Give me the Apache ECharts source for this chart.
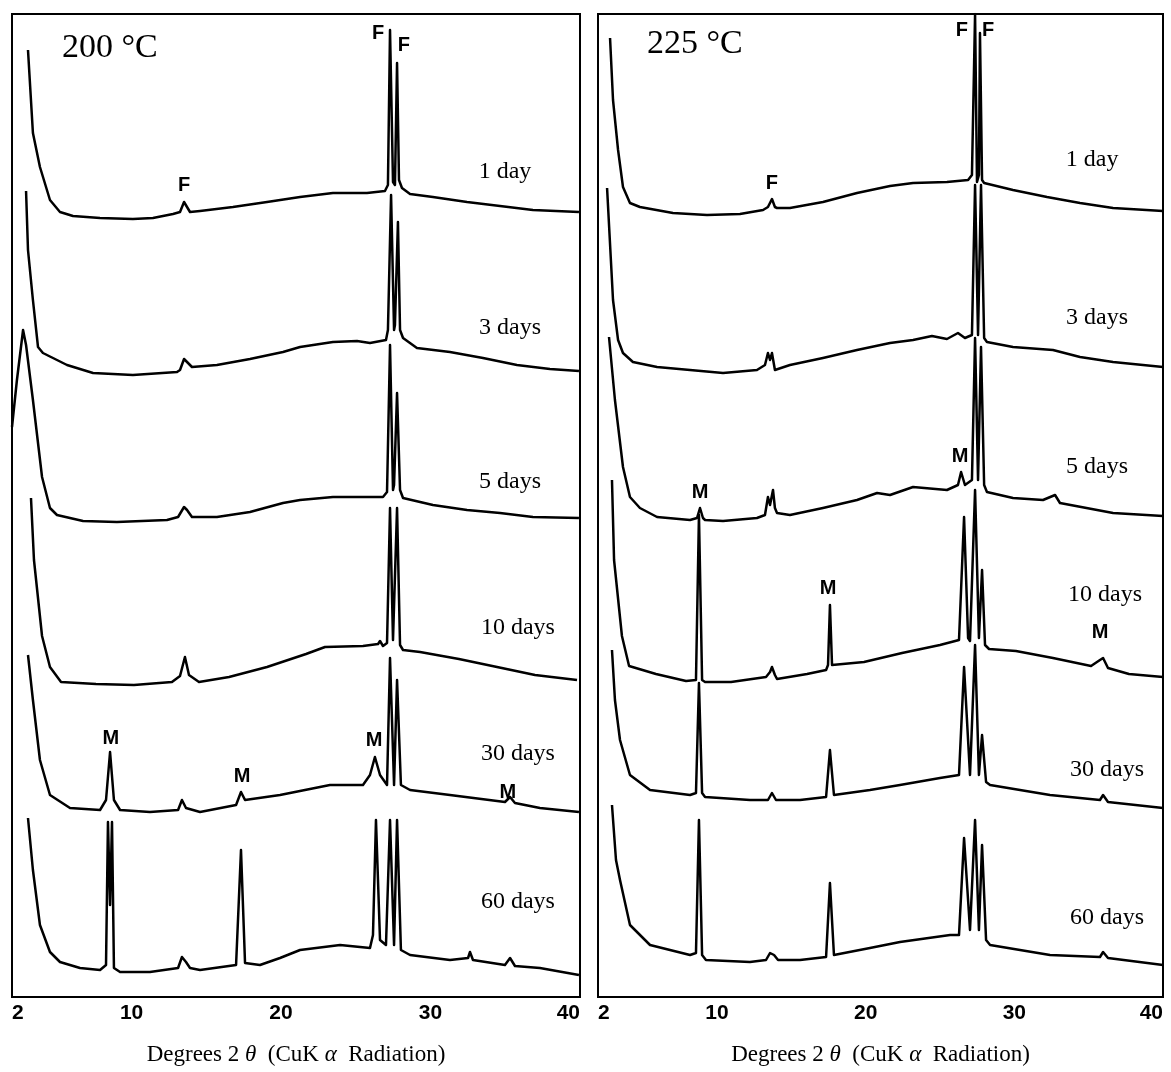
<!DOCTYPE html>
<html>

<head>
	<meta charset="utf-8">
	<title>XRD patterns 200 / 225 C</title>
	<script src="https://cdn.jsdelivr.net/npm/echarts@6/dist/echarts.min.js"></script>
	<style>
		body { margin: 0; background: #fff; }
		#xrd { width: 1171px; height: 1072px; }
	</style>
</head>

<body>
	<div id="xrd"></div>
	<script>
		// tick labels and sample names
		var xTicks = [2, 10, 20, 30, 40];
		var dayNames = ['1 day', '3 days', '5 days', '10 days', '30 days', '60 days'];
		var panelTitles = ['200 °C', '225 °C'];

		// 200 C traces: [2theta, stacked intensity]
		var t200_1 = [[3.07,947],[3.40,864],[3.87,830],[4.54,797],[5.21,785],[6.08,781],[7.89,779],[10.09,778],[11.43,779],[12.77,783],[13.24,785],[13.51,795],[13.64,793],[13.91,785],[14.58,786],[16.78,790],[19.06,795],[21.27,800],[23.47,804],[25.75,804],[26.95,806],[27.15,812],[27.29,967],[27.49,815],[27.62,812],[27.76,934],[27.89,817],[28.09,809],[28.63,803],[30.16,800],[32.44,795],[34.65,791],[36.85,787],[39.93,785]];
		var t200_3 = [[2.94,806],[3.07,747],[3.40,697],[3.74,650],[4.07,644],[5.68,632],[7.42,624],[10.09,622],[13.04,625],[13.24,627],[13.51,638],[13.71,635],[14.04,630],[15.71,632],[17.92,638],[20.13,645],[21.27,650],[23.47,655],[25.08,656],[25.95,654],[27.02,657],[27.15,667],[27.36,802],[27.56,667],[27.62,672],[27.82,775],[27.96,667],[28.16,659],[29.09,649],[31.30,645],[33.51,639],[35.78,632],[37.99,628],[39.93,626]];
		var t200_5 = [[2.0,570],[2.33,617],[2.74,667],[2.94,652],[3.40,597],[4.01,520],[4.54,489],[5.01,482],[6.75,476],[9.02,475],[12.37,477],[13.11,480],[13.51,490],[13.71,487],[14.04,480],[15.71,480],[17.92,485],[20.13,494],[21.27,497],[23.47,500],[26.82,500],[27.09,505],[27.29,652],[27.49,507],[27.56,512],[27.76,604],[27.96,507],[28.16,499],[30.16,492],[32.44,487],[34.65,484],[36.85,480],[39.93,479]];
		var t200_10 = [[3.27,499],[3.47,437],[4.01,361],[4.54,330],[5.28,315],[7.62,313],[10.16,312],[12.70,315],[13.24,321],[13.57,340],[13.84,322],[14.51,315],[16.52,320],[19.06,330],[21.67,343],[22.94,350],[25.48,351],[26.49,353],[26.62,356],[26.82,351],[27.09,354],[27.29,489],[27.49,357],[27.56,357],[27.76,489],[27.96,352],[28.16,347],[29.30,345],[31.90,338],[34.45,330],[36.99,322],[39.80,317]];
		var t200_30 = [[3.07,342],[3.40,297],[3.87,237],[4.54,202],[5.88,189],[7.89,187],[8.29,197],[8.56,245],[8.82,197],[9.23,187],[11.23,185],[13.11,187],[13.37,197],[13.64,189],[14.58,185],[16.99,192],[17.32,205],[17.59,197],[19.93,202],[23.27,212],[25.48,212],[25.95,222],[26.28,240],[26.62,222],[27.09,212],[27.29,339],[27.56,212],[27.76,317],[28.02,212],[28.63,207],[31.30,202],[34.98,195],[35.32,200],[35.65,194],[37.32,189],[39.93,185]];
		var t200_60 = [[3.07,179],[3.40,127],[3.87,72],[4.54,45],[5.21,35],[6.55,29],[7.89,27],[8.29,32],[8.42,175],[8.56,92],[8.69,175],[8.82,29],[9.23,25],[11.23,25],[13.11,29],[13.37,40],[13.64,35],[13.91,29],[14.58,27],[16.99,32],[17.32,147],[17.59,34],[18.59,32],[19.93,39],[21.27,47],[23.95,52],[25.95,49],[26.15,62],[26.35,177],[26.62,57],[27.02,52],[27.29,177],[27.56,52],[27.76,177],[28.02,47],[28.63,42],[31.30,37],[32.51,39],[32.64,45],[32.84,37],[34.98,32],[35.32,39],[35.65,31],[37.32,29],[39.93,22]];

		// 225 C traces
		var t225_1 = [[2.81,959],[3.01,897],[3.35,847],[3.68,810],[4.15,794],[4.82,790],[7.04,784],[9.33,782],[11.55,783],[13.10,787],[13.43,790],[13.70,798],[13.90,790],[14.04,789],[14.91,789],[17.13,795],[19.42,804],[21.64,811],[23.19,814],[25.47,815],[26.89,817],[27.15,822],[27.36,983],[27.49,815],[27.62,822],[27.69,964],[27.83,817],[27.97,814],[29.91,807],[32.20,800],[34.42,794],[36.64,789],[40.0,786]];
		var t225_3 = [[2.61,809],[3.01,697],[3.35,657],[3.68,644],[4.35,635],[5.97,630],[8.19,627],[10.41,624],[12.69,627],[13.23,632],[13.43,644],[13.57,637],[13.70,644],[13.90,627],[14.91,632],[17.13,639],[19.42,647],[21.64,654],[23.19,657],[24.46,661],[25.47,658],[26.21,664],[26.68,659],[27.15,662],[27.36,812],[27.56,662],[27.76,812],[27.97,659],[28.16,655],[29.91,650],[32.60,647],[34.42,640],[36.64,635],[40.0,630]];
		var t225_5 = [[2.74,660],[3.14,597],[3.68,530],[4.15,500],[4.82,489],[5.97,480],[8.19,477],[8.66,479],[8.86,489],[9.06,479],[9.20,477],[10.41,476],[12.69,479],[13.23,482],[13.43,500],[13.57,492],[13.77,507],[13.90,489],[14.04,484],[14.91,482],[17.13,489],[19.42,497],[20.77,504],[21.64,502],[23.19,510],[25.47,507],[26.21,512],[26.42,525],[26.68,512],[27.15,517],[27.36,659],[27.56,517],[27.76,650],[27.97,512],[28.16,505],[29.91,499],[31.93,497],[32.74,502],[33.07,494],[36.64,484],[40.0,481]];
		var t225_10 = [[2.94,517],[3.08,437],[3.61,361],[4.09,331],[5.90,323],[7.92,316],[8.59,317],[8.79,482],[9.00,317],[9.20,315],[10.95,315],[13.30,320],[13.57,325],[13.70,330],[13.90,322],[14.04,318],[16.06,323],[17.34,327],[17.47,332],[17.60,392],[17.74,332],[17.87,331],[19.89,335],[22.45,344],[25.00,352],[26.28,357],[26.62,480],[26.89,359],[27.02,356],[27.36,507],[27.62,359],[27.83,427],[28.03,352],[28.30,348],[30.11,346],[32.60,339],[35.16,331],[35.76,337],[35.97,339],[36.30,329],[37.71,323],[40.0,320]];
		var t225_30 = [[2.94,347],[3.14,297],[3.48,257],[4.15,222],[5.50,207],[8.19,202],[8.59,204],[8.79,314],[9.00,204],[9.20,200],[12.22,197],[13.43,197],[13.70,204],[13.97,197],[15.59,197],[17.34,200],[17.60,247],[17.87,202],[20.29,207],[22.31,212],[25.00,219],[26.28,222],[26.62,330],[27.02,222],[27.36,352],[27.62,222],[27.83,262],[28.10,215],[28.37,212],[32.40,202],[35.76,197],[35.97,202],[36.30,195],[40.0,189]];
		var t225_60 = [[2.94,192],[3.21,137],[3.48,117],[4.15,72],[5.50,52],[8.19,42],[8.59,44],[8.79,177],[9.00,42],[9.26,37],[12.22,35],[13.30,37],[13.57,44],[13.84,42],[14.11,37],[15.59,37],[17.34,40],[17.60,114],[17.87,42],[20.29,49],[22.31,55],[25.68,62],[26.28,62],[26.62,159],[27.02,67],[27.36,177],[27.62,67],[27.83,152],[28.10,57],[28.37,52],[32.40,42],[35.76,40],[35.97,45],[36.30,39],[40.0,32]];

		// label anchors [2theta, height]
		var dayPos200 = [[34.98,825],[35.32,669],[35.32,515],[35.85,369],[35.85,243],[35.85,95]];
		var dayPos225 = [[35.23,837],[35.56,679],[35.56,530],[36.10,402],[36.24,227],[36.24,79]];
		var peaks200 = [[13.51,812,'F'],[26.49,964,'F'],[28.22,952,'F'],[8.62,259,'M'],[17.39,221,'M'],[26.22,257,'M'],[35.18,205,'M']];
		var peaks225 = [[13.70,814,'F'],[26.48,967,'F'],[28.23,967,'F'],[8.86,505,'M'],[26.35,541,'M'],[17.47,409,'M'],[35.76,365,'M']];

		var serif = '"Liberation Serif", "DejaVu Serif", serif';
		var sans = '"Liberation Sans", Arial, sans-serif';

		function traceSeries(data, idx) {
			return {
				type: 'line',
				data: data,
				xAxisIndex: idx,
				yAxisIndex: idx,
				showSymbol: false,
				symbol: 'none',
				silent: true,
				lineStyle: { color: '#000', width: 2.5, join: 'round' },
				z: 3
			};
		}

		function textSeries(data, idx, font, size, weight) {
			return {
				type: 'scatter',
				data: data,
				xAxisIndex: idx,
				yAxisIndex: idx,
				symbolSize: 0,
				silent: true,
				z: 5,
				itemStyle: { opacity: 1 },
				label: {
					show: true,
					position: 'inside',
					color: '#000',
					opacity: 1,
					textBorderWidth: 0,
					fontFamily: font,
					fontSize: size,
					fontWeight: weight,
					formatter: function (p) { return p.value[2]; }
				}
			};
		}

		function withNames(pos) {
			var out = [];
			for (var i = 0; i < pos.length; i++) {
				out.push([pos[i][0], pos[i][1], dayNames[i]]);
			}
			return out;
		}

		function xAxisOf(idx) {
			return {
				type: 'value',
				gridIndex: idx,
				min: 2,
				max: 40,
				axisLine: { show: false },
				axisTick: { show: false },
				splitLine: { show: false },
				axisLabel: {
					customValues: xTicks,
					margin: 6,
					color: '#000',
					fontFamily: sans,
					fontWeight: 'bold',
					fontSize: 21,
					alignMinLabel: 'left',
					alignMaxLabel: 'right'
				},
				name: '{n|Degrees 2 }{i|θ}{n|  (CuK}{i| α}{n|  Radiation)}',
				nameLocation: 'middle',
				nameGap: 46,
				nameTextStyle: {
					rich: {
						n: { fontFamily: serif, fontSize: 23, color: '#000' },
						i: { fontFamily: serif, fontSize: 23, fontStyle: 'italic', color: '#000' }
					}
				}
			};
		}

		function yAxisOf(idx) {
			return {
				type: 'value',
				gridIndex: idx,
				min: 0,
				max: 983,
				show: false
			};
		}

		var chart = echarts.init(document.getElementById('xrd'));
		var option = {
			animation: false,
			backgroundColor: '#fff',
			title: [
				{ text: panelTitles[0], left: 57, top: 26, textStyle: { fontFamily: serif, fontWeight: 'normal', fontSize: 34, color: '#000' } },
				{ text: panelTitles[1], left: 642, top: 22, textStyle: { fontFamily: serif, fontWeight: 'normal', fontSize: 34, color: '#000' } }
			],
			grid: [
				{ left: 12, top: 14, width: 568, height: 983, show: true, borderColor: '#000', borderWidth: 2, z: 10, backgroundColor: 'transparent' },
				{ left: 598, top: 14, width: 565, height: 983, show: true, borderColor: '#000', borderWidth: 2, z: 10, backgroundColor: 'transparent' }
			],
			xAxis: [xAxisOf(0), xAxisOf(1)],
			yAxis: [yAxisOf(0), yAxisOf(1)],
			series: [
				traceSeries(t200_1, 0), traceSeries(t200_3, 0), traceSeries(t200_5, 0),
				traceSeries(t200_10, 0), traceSeries(t200_30, 0), traceSeries(t200_60, 0),
				traceSeries(t225_1, 1), traceSeries(t225_3, 1), traceSeries(t225_5, 1),
				traceSeries(t225_10, 1), traceSeries(t225_30, 1), traceSeries(t225_60, 1),
				textSeries(withNames(dayPos200), 0, serif, 24, 'normal'),
				textSeries(withNames(dayPos225), 1, serif, 24, 'normal'),
				textSeries(peaks200, 0, sans, 20, 'bold'),
				textSeries(peaks225, 1, sans, 20, 'bold')
			]
		};
		chart.setOption(option);
	</script>
</body>

</html>
